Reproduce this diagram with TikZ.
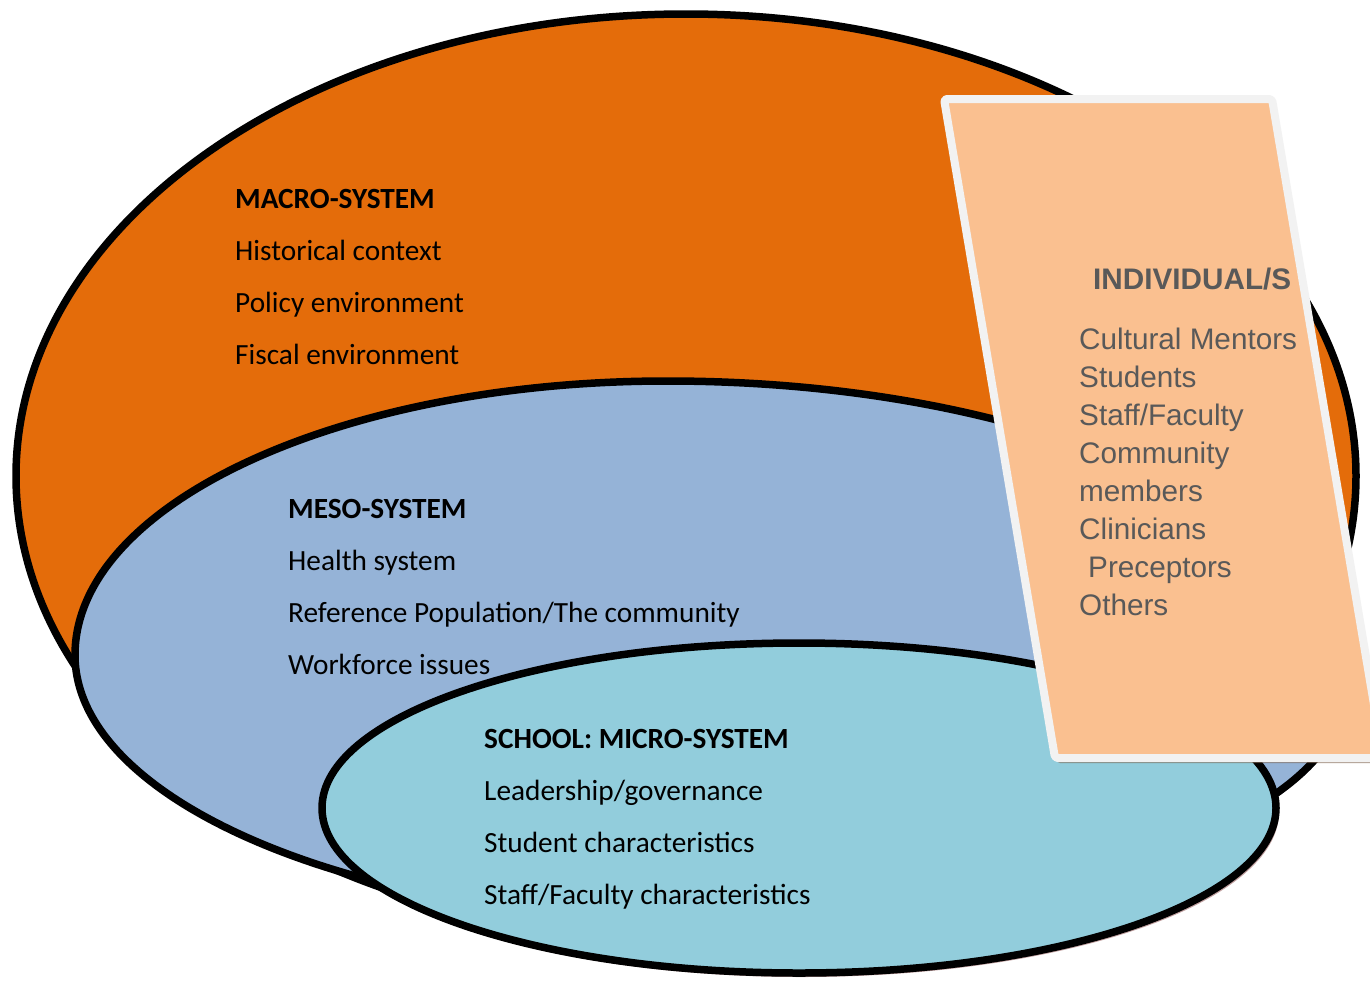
\documentclass[tikz,border=0pt]{standalone}
\usepackage{fontspec}
\setmainfont{Carlito}
\newfontfamily\arialf{Liberation Sans}
\definecolor{macrocol}{RGB}{228,108,10}
\definecolor{mesocol}{RGB}{149,179,215}
\definecolor{microcol}{RGB}{146,205,220}
\definecolor{indivcol}{RGB}{250,192,144}
\definecolor{rimcol}{RGB}{242,242,242}
\definecolor{txtgray}{RGB}{89,89,89}
\definecolor{shadowred}{RGB}{150,95,95}
\definecolor{shadowblue}{RGB}{80,80,115}
\definecolor{shadowbrown}{RGB}{110,80,55}
\begin{document}
\begin{tikzpicture}[x=1pt,y=-1pt,
  sysline/.style={draw=black,line width=7.5pt},
  lefttxt/.style={anchor=base west,inner sep=0pt,font=\fontsize{29.3}{34}\selectfont},
  lefthead/.style={anchor=base west,inner sep=0pt,font=\fontsize{29.3}{34}\selectfont\bfseries},
  righttxt/.style={anchor=base west,inner sep=0pt,text=txtgray,font=\arialf\fontsize{29.7}{38}\selectfont},
  righthead/.style={anchor=base west,inner sep=0pt,text=txtgray,font=\arialf\bfseries\fontsize{29.7}{38}\selectfont}]
\useasboundingbox (0,0) rectangle (1370,980);
\clip (0,0) rectangle (1370,980);
\fill[white] (0,0) rectangle (1370,980);

% macro-system
\fill[black!35,opacity=.5] (687,477) ellipse [x radius=671pt, y radius=463pt];
\path[fill=macrocol,sysline] (686,476) ellipse [x radius=670pt, y radius=462pt];

% meso-system shadow
\begin{scope}[shift={(2,3)}]
\fill[shadowblue,opacity=.5] (75,655) .. controls (75,504) and (340,381) .. (667,381) .. controls (1041,381) and (1345,519) .. (1345,690) .. controls (1345,817) and (1056,920) .. (700,920) .. controls (355,920) and (75,801) .. (75,655) -- cycle;
\end{scope}
% meso-system
\path[fill=mesocol,sysline] (75,655) .. controls (75,504) and (340,381) .. (667,381) .. controls (1041,381) and (1345,519) .. (1345,690) .. controls (1345,817) and (1056,920) .. (700,920) .. controls (355,920) and (75,801) .. (75,655) -- cycle;

% micro-system
\fill[shadowred,opacity=.6] (802,812) ellipse [x radius=477pt, y radius=165pt];
\path[fill=microcol,sysline] (799,808) ellipse [x radius=477pt, y radius=165pt];

% texts
\node[lefthead] (mah) at (235,208) {MACRO-SYSTEM};
\node[lefttxt] (ma1) at (235,260) {Historical context};
\node[lefttxt] (ma2) at (235,312) {Policy environment};
\node[lefttxt] (ma3) at (235,364) {Fiscal environment};

\node[lefthead] (meh) at (288,518) {MESO-SYSTEM};
\node[lefttxt] (me1) at (288,570) {Health system};
\node[lefttxt] (me2) at (288,622) {Reference Population/The community};
\node[lefttxt] (me3) at (288,674) {Workforce issues};

\node[lefthead] (mih) at (484,748) {SCHOOL: MICRO-SYSTEM};
\node[lefttxt] (mi1) at (484,800) {Leadership/governance};
\node[lefttxt] (mi2) at (484,852) {Student characteristics};
\node[lefttxt] (mi3) at (484,904) {Staff/Faculty characteristics};

% individuals panel
\fill[shadowbrown,opacity=.55,rounded corners=3pt] (946,104) -- (1274,104) -- (1385,763) -- (1057,763) -- cycle;
\path[fill=indivcol,draw=rimcol,line width=8pt,rounded corners=3pt,line join=round] (944,99) -- (1272,99) -- (1383,758) -- (1055,758) -- cycle;

\node[righthead] (inh) at (1093,289) {INDIVIDUAL/S};
\node[righttxt] (in1) at (1079,349) {Cultural Mentors};
\node[righttxt] (in2) at (1079,387) {Students};
\node[righttxt] (in3) at (1079,425) {Staff/Faculty};
\node[righttxt] (in4) at (1079,463) {Community};
\node[righttxt] (in5) at (1079,501) {members};
\node[righttxt] (in6) at (1079,539) {Clinicians};
\node[righttxt] (in7) at (1088,577) {Preceptors};
\node[righttxt] (in8) at (1079,615) {Others};
\end{tikzpicture}
\end{document}
